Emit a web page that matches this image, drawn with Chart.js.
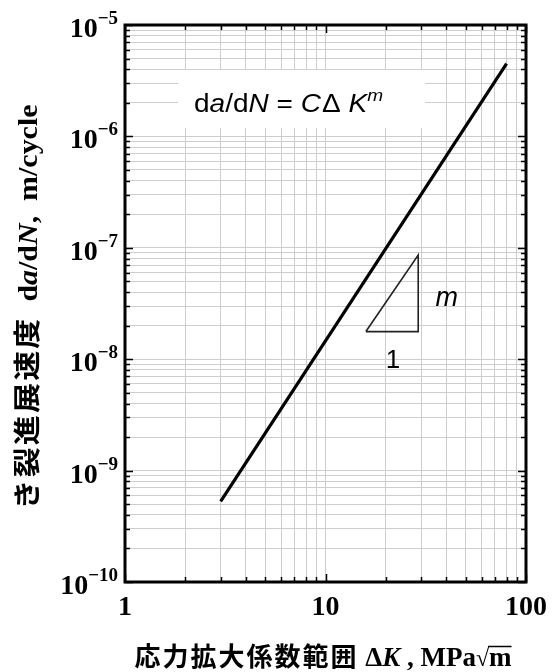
<!DOCTYPE html>
<html>
<head>
<meta charset="utf-8">
<script src="https://cdn.jsdelivr.net/npm/chart.js@4.4.1/dist/chart.umd.min.js"></script>
<style>
  html, body { margin: 0; padding: 0; background: #fff; }
  #wrap { width: 552px; height: 672px; }
</style>
</head>
<body>
<div id="wrap"><canvas id="chart" width="552" height="672"></canvas></div>
<script>
// ── Data ──────────────────────────────────────────────────
const lawK     = [3, 80];                 // ΔK, MPa√m
const lawRate  = [5.3e-10, 4.5e-6];       // da/dN, m/cycle
const triK     = [15.9, 29, 29, 15.9];    // slope triangle
const triRate  = [1.77e-8, 8.6e-8, 1.77e-8, 1.77e-8];
const xTicks   = [1, 10, 100];
const xTickLabels = ['1', '10', '100'];
const yTicks   = [1e-10, 1e-9, 1e-8, 1e-7, 1e-6, 1e-5];
const yTickExp = ['−10', '−9', '−8', '−7', '−6', '−5'];

// minor grid values (1..9 per decade)
function decadeGrid(majors) {
    const out = [];
    for (let i = 0; i < majors.length - 1; i++)
        for (let k = 1; k < 10; k++) out.push(majors[i] * k);
    out.push(majors[majors.length - 1]);
    return out;
}
const xGrid = decadeGrid(xTicks);
const yGrid = decadeGrid(yTicks);

const SERIF = '"Liberation Serif", "Times New Roman", serif';
const SANS  = '"Liberation Sans", Arial, sans-serif';
const CJK   = '"Noto Sans CJK JP", sans-serif';

// draws a list of text runs left to right; returns total width
function runs(ctx, list, x, y, draw = true) {
    let cx = x;
    list.forEach(r => {
        ctx.font = r.font;
        if (r.each) {
            for (const ch of r.t) {
                if (draw) ctx.fillText(ch, cx, y + (r.dy || 0));
                cx += ctx.measureText(ch).width + r.each;
            }
        } else {
            if (draw) ctx.fillText(r.t, cx, y + (r.dy || 0));
            cx += ctx.measureText(r.t).width + (r.gap || 0);
        }
    });
    return cx - x;
}

const decor = {
    id: 'decor',
    beforeDatasetsDraw(chart) {
        const { ctx, scales: { x, y } } = chart;
        // equation box
        const bx0 = x.getPixelForValue(1.84), bx1 = x.getPixelForValue(31.4);
        const by0 = y.getPixelForValue(3.95e-6), by1 = y.getPixelForValue(1.19e-6);
        ctx.save();
        ctx.fillStyle = '#fff';
        ctx.fillRect(bx0, by0, bx1 - bx0, by1 - by0);
        ctx.fillStyle = '#000';
        ctx.textBaseline = 'alphabetic';
        const f = s => `${s}25px ${SANS}`;
        const eq = [
            { t: 'd', font: f('') }, { t: 'a', font: f('italic ') },
            { t: '/d', font: f('') }, { t: 'N', font: f('italic ') },
            { t: ' = ', font: f('') }, { t: 'C', font: f('italic '), gap: 1 },
            { t: 'Δ ', font: f('') }, { t: 'K', font: f('italic ') },
            { t: 'm', font: `italic 17px ${SANS}`, dy: -11 },
        ];
        const w = runs(ctx, eq, 0, 0, false);
        ctx.translate(194, 112);
        ctx.scale(189 / w, 1);
        runs(ctx, eq, 0, 0);
        ctx.restore();
    },
    afterDraw(chart) {
        const { ctx, chartArea: a, scales: { x, y } } = chart;
        ctx.save();
        // inner ticks
        ctx.strokeStyle = '#000';
        ctx.lineWidth = 1.5;
        xGrid.forEach(v => {
            const px = Math.round(x.getPixelForValue(v)) + 0.5;
            const len = xTicks.includes(v) ? 8 : 5;
            ctx.beginPath();
            ctx.moveTo(px, a.top); ctx.lineTo(px, a.top + len);
            ctx.moveTo(px, a.bottom); ctx.lineTo(px, a.bottom - len);
            ctx.stroke();
        });
        yGrid.forEach(v => {
            const py = Math.round(y.getPixelForValue(v)) + 0.5;
            const len = yTicks.includes(v) ? 8 : 5;
            ctx.beginPath();
            ctx.moveTo(a.left, py); ctx.lineTo(a.left + len, py);
            ctx.moveTo(a.right, py); ctx.lineTo(a.right - len, py);
            ctx.stroke();
        });
        // frame
        ctx.lineWidth = 3;
        ctx.strokeRect(a.left, a.top, a.right - a.left, a.bottom - a.top);

        // tick labels
        ctx.fillStyle = '#000';
        ctx.textBaseline = 'alphabetic';
        ctx.font = `bold 28px ${SERIF}`;
        ctx.textAlign = 'center';
        xTicks.forEach((v, i) => ctx.fillText(xTickLabels[i], x.getPixelForValue(v), 615));
        yTicks.forEach((v, i) => {
            const py = y.getPixelForValue(v);
            ctx.textAlign = 'right';
            ctx.font = `bold 19px ${SERIF}`;
            ctx.fillText(yTickExp[i], 118, py - 1);
            const w = ctx.measureText(yTickExp[i]).width;
            ctx.font = `bold 28px ${SERIF}`;
            ctx.fillText('10', 118 - w, py + 12);
        });

        // slope labels
        ctx.textAlign = 'center';
        ctx.font = `italic 27px ${SANS}`;
        ctx.fillText('m', x.getPixelForValue(40.2), y.getPixelForValue(3.64e-8) + 9);
        ctx.font = `26px ${SANS}`;
        ctx.fillText('1', x.getPixelForValue(21.7), y.getPixelForValue(1.03e-8) + 10);

        // x title
        ctx.textAlign = 'left';
        const xt = [
            { t: '応力拡大係数範囲', font: `bold 26px ${CJK}`, each: 2 },
            { t: ' Δ', font: `bold 27px ${SERIF}` },
            { t: 'K', font: `italic bold 27px ${SERIF}` },
            { t: ' , MPa', font: `bold 27px ${SERIF}` },
            { t: '√', font: `bold 24px ${SERIF}` },
            { t: 'm', font: `bold 27px ${SERIF}` },
        ];
        const xw = runs(ctx, xt, 0, 0, false);
        const x0 = 323 - xw / 2;
        runs(ctx, xt, x0, 666);
        // overline of the root
        ctx.font = `bold 27px ${SERIF}`;
        const mw = ctx.measureText('m').width;
        ctx.lineWidth = 1.5;
        ctx.beginPath();
        ctx.moveTo(x0 + xw - mw - 1, 646.5); ctx.lineTo(x0 + xw, 646.5);
        ctx.stroke();

        // y title (rotated)
        const yt = [
            { t: 'き裂進展速度', font: `bold 27px ${CJK}`, each: 2 },
            { t: '  d', font: `bold 27px ${SERIF}` },
            { t: 'a', font: `italic bold 27px ${SERIF}` },
            { t: '/d', font: `bold 27px ${SERIF}` },
            { t: 'N', font: `italic bold 27px ${SERIF}` },
            { t: ',  m/cycle', font: `bold 27px ${SERIF}` },
        ];
        const yw = runs(ctx, yt, 0, 0, false);
        ctx.translate(37, 307);
        ctx.rotate(-Math.PI / 2);
        ctx.scale(405 / yw, 1);
        runs(ctx, yt, -yw / 2, 0);
        ctx.restore();
    }
};

new Chart(document.getElementById('chart'), {
    type: 'scatter',
    data: {
        datasets: [
            {
                data: lawK.map((k, i) => ({ x: k, y: lawRate[i] })),
                showLine: true, borderColor: '#000', borderWidth: 3.2,
                pointRadius: 0, fill: false,
            },
            {
                data: triK.map((k, i) => ({ x: k, y: triRate[i] })),
                showLine: true, borderColor: '#222', borderWidth: 1.6,
                pointRadius: 0, fill: false,
            },
        ],
    },
    options: {
        responsive: false,
        animation: false,
        devicePixelRatio: 1,
        layout: { padding: { left: 125, top: 25, right: 26, bottom: 90 } },
        plugins: { legend: { display: false }, tooltip: { enabled: false } },
        scales: {
            x: {
                type: 'logarithmic', min: 1, max: 100,
                afterBuildTicks: s => { s.ticks = xGrid.map(v => ({ value: v })); },
                ticks: { display: false },
                grid: { color: '#cdcdcd', lineWidth: 1, drawTicks: false },
                border: { display: false },
            },
            y: {
                type: 'logarithmic', min: 1e-10, max: 1e-5,
                afterBuildTicks: s => { s.ticks = yGrid.map(v => ({ value: v })); },
                ticks: { display: false },
                grid: { color: '#cdcdcd', lineWidth: 1, drawTicks: false },
                border: { display: false },
            },
        },
    },
    plugins: [decor],
});
</script>
</body>
</html>
